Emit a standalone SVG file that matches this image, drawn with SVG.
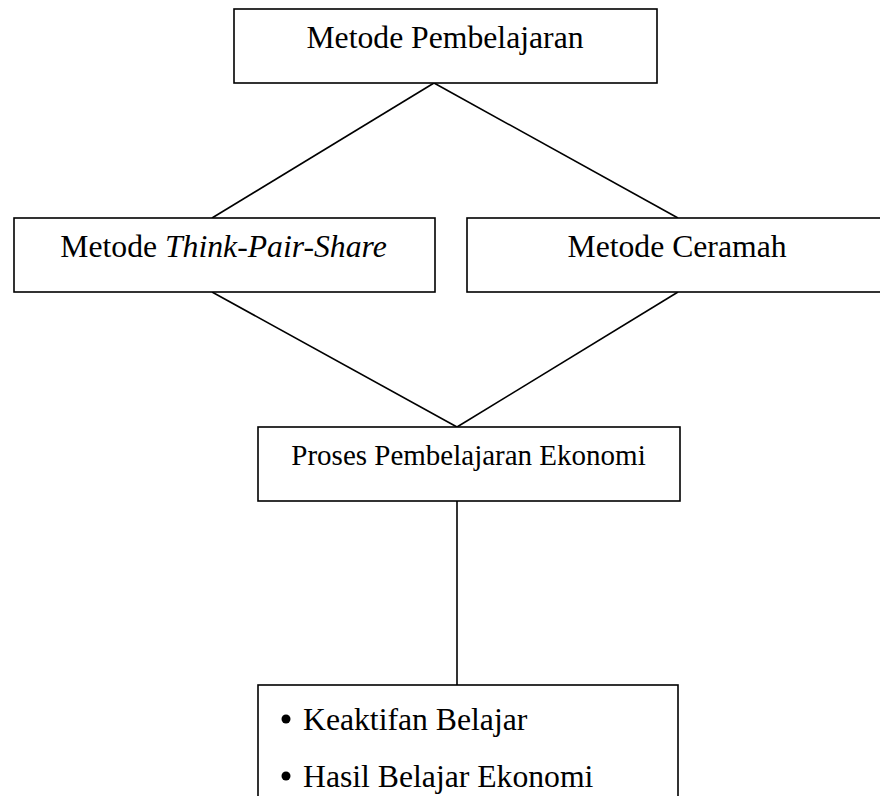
<svg xmlns="http://www.w3.org/2000/svg" width="880" height="796" viewBox="0 0 880 796">
<style>
.box{fill:#fff;stroke:#000;stroke-width:1.6}
.conn line{stroke:#000;stroke-width:1.6}
text{font-family:"Liberation Serif","Times New Roman",serif;font-size:31.7px;fill:#000}
.c{text-anchor:middle}
.s{font-size:29px}
</style>
<rect width="880" height="796" fill="#fff"/>
<g id="connectors" class="conn">
<line x1="434" y1="83" x2="212" y2="218"/>
<line x1="434" y1="83" x2="678" y2="218"/>
<line x1="212" y1="292" x2="457" y2="427"/>
<line x1="678" y1="292" x2="457" y2="427"/>
<line x1="457" y1="501" x2="457" y2="685"/>
</g>
<g id="metode-pembelajaran">
<rect class="box" x="234" y="9" width="423" height="74"/>
<text class="c" x="445" y="48">Metode Pembelajaran</text>
</g>
<g id="metode-tps">
<rect class="box" x="14" y="218" width="421" height="74"/>
<text class="c" x="223.5" y="257">Metode <tspan font-style="italic">Think-Pair-Share</tspan></text>
</g>
<g id="metode-ceramah">
<rect class="box" x="467" y="218" width="420" height="74"/>
<text class="c" x="677" y="257">Metode Ceramah</text>
</g>
<g id="proses">
<rect class="box" x="258" y="427" width="422" height="74"/>
<text class="c s" x="468.5" y="465">Proses Pembelajaran Ekonomi</text>
</g>
<g id="hasil">
<rect class="box" x="258" y="685" width="420" height="130"/>
<circle cx="286" cy="719" r="4.5" fill="#000"/>
<text x="303" y="730">Keaktifan Belajar</text>
<circle cx="286" cy="776" r="4.5" fill="#000"/>
<text x="303" y="787">Hasil Belajar Ekonomi</text>
</g>
</svg>
